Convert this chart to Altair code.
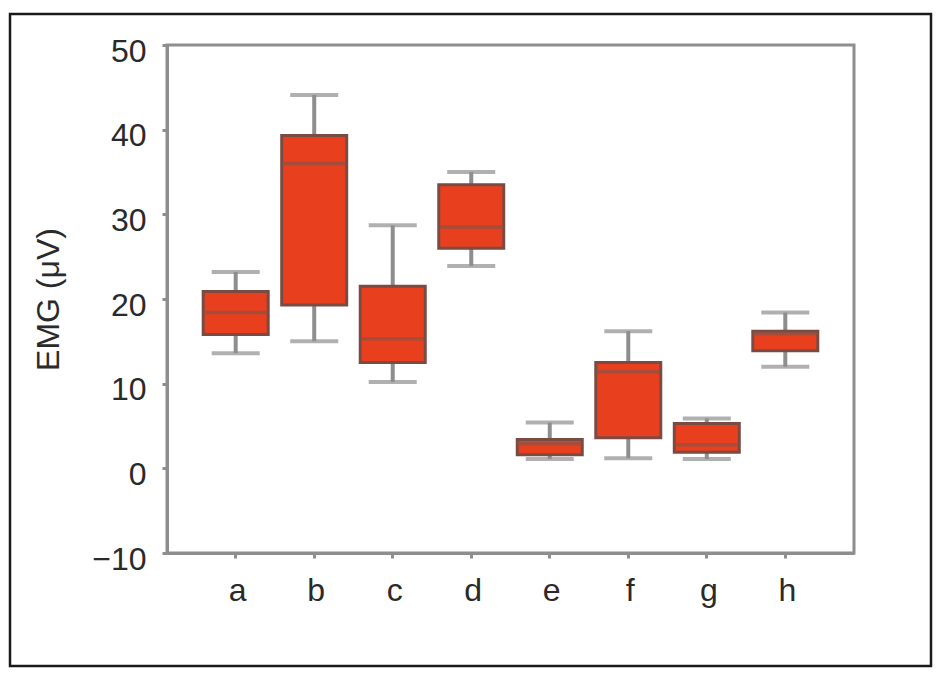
import altair as alt
import pandas as pd

categories = ["a", "b", "c", "d", "e", "f", "g", "h"]
whisker_low = [13.6, 15.0, 10.2, 23.9, 1.1, 1.2, 1.1, 12.0]
q1 = [15.8, 19.3, 12.5, 26.0, 1.6, 3.6, 1.9, 13.9]
median = [18.4, 36.0, 15.3, 28.5, 2.9, 11.4, 2.8, 15.9]
q3 = [20.9, 39.3, 21.5, 33.5, 3.4, 12.5, 5.3, 16.2]
whisker_high = [23.2, 44.1, 28.7, 35.0, 5.4, 16.2, 5.9, 18.4]
y_ticks = [-10, 0, 10, 20, 30, 40, 50]

df = pd.DataFrame({
    "cat": categories,
    "lo": whisker_low,
    "q1": q1,
    "med": median,
    "q3": q3,
    "hi": whisker_high,
})

FONT = "Liberation Sans"
GRAY = "#8e8e8e"

x_enc = alt.X(
    "cat:N",
    sort=categories,
    title=None,
    scale=alt.Scale(paddingInner=0.1, paddingOuter=0.425),
    axis=alt.Axis(
        labelAngle=0,
        labelFontSize=32,
        labelPadding=17,
        tickSize=5,
        labelOffset=2,
    ),
)
y_scale = alt.Scale(domain=[-10, 50], nice=False, zero=False)
y_axis = alt.Axis(
    values=y_ticks,
    title="EMG (μV)",
    titleFontSize=32,
    titleFontWeight="normal",
    titleX=-109,
    titleY=254,
    titleAngle=-90,
    titleAlign="center",
    titleBaseline="alphabetic",
    labelFontSize=32,
    labelPadding=16,
    labelOffset=6,
    tickSize=5,
    grid=False,
)

base = alt.Chart(df)

whisk = base.mark_rule(color=GRAY, strokeWidth=4).encode(
    x=x_enc,
    y=alt.Y("lo:Q", scale=y_scale, axis=y_axis),
    y2="hi:Q",
)
cap_lo = base.mark_tick(color=GRAY, size=48, thickness=4).encode(
    x=x_enc, y=alt.Y("lo:Q", scale=y_scale)
)
cap_hi = base.mark_tick(color=GRAY, size=48, thickness=4).encode(
    x=x_enc, y=alt.Y("hi:Q", scale=y_scale)
)
box = base.mark_bar(
    size=65, fill="#e8401f", stroke="#7a4b43", strokeWidth=3
).encode(
    x=x_enc,
    y=alt.Y("q1:Q", scale=y_scale),
    y2="q3:Q",
)
med = base.mark_tick(color="#8a5147", size=64, thickness=3.5).encode(
    x=x_enc, y=alt.Y("med:Q", scale=y_scale)
)

frame = alt.Chart(alt.Data(values=[{"f": 1}])).mark_rect(
    fill="transparent", stroke="#1a1a1a", strokeWidth=2.5
).encode(
    x=alt.value(-157),
    x2=alt.value(764),
    y=alt.value(-31),
    y2=alt.value(621),
)

chart = (
    alt.layer(whisk, cap_lo, cap_hi, box, med, frame)
    .properties(
        width=687,
        height=508,
        autosize=alt.AutoSizeParams(type="none"),
        padding={"left": 159, "top": 37, "right": 80, "bottom": 115},
        background="white",
    )
    .configure_view(stroke=GRAY, strokeWidth=3)
    .configure_axis(
        domainColor=GRAY,
        domainWidth=3,
        tickColor=GRAY,
        tickWidth=3,
        labelColor="#2a2a2a",
        titleColor="#2a2a2a",
        labelFont=FONT,
        titleFont=FONT,
    )
)

chart.save("out.html", embed_options={"renderer": "svg", "actions": False})
